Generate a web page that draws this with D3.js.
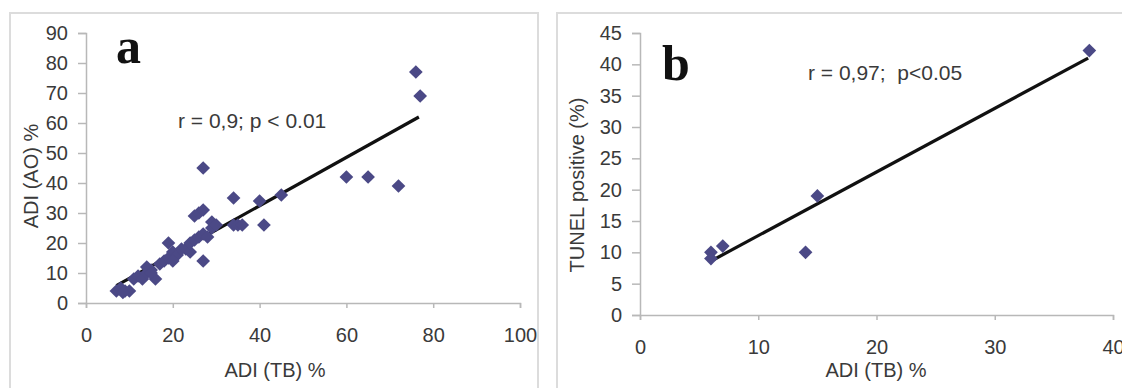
<!DOCTYPE html>
<html>
<head>
<meta charset="utf-8">
<script src="https://cdn.jsdelivr.net/npm/d3@7/dist/d3.min.js"></script>
<style>
  html, body { margin: 0; padding: 0; background: #fff; }
  svg { display: block; font-family: "Liberation Sans", Arial, sans-serif; }
</style>
</head>
<body>
<svg id="chart" width="1122" height="388"></svg>
<script>
// Panel a: ADI (TB) % vs ADI (AO) %
var adiTbA = [7, 8, 9, 10, 8.5, 11, 12, 13, 14, 15, 14, 16, 15,
  17, 18, 19, 19, 20, 21, 20, 22, 23, 24, 24, 25, 26, 27, 28, 27,
  25, 26, 27, 27, 29, 29, 30, 34, 34, 35, 36, 40, 41, 45, 60, 65, 72, 76, 77];
var adiAoA = [4, 5, 4, 4, 3.5, 8, 9, 8, 10, 11, 12, 8, 10,
  13, 14, 15, 20, 17, 16, 14, 18, 18, 17, 20, 21, 22, 23, 22, 14,
  29, 30, 31, 45, 27, 25, 26, 35, 26, 26, 26, 34, 26, 36, 42, 42, 39, 77, 69];
var trendA = [[7, 5.8], [76.7, 62]];
var ticksXA = [0, 20, 40, 60, 80, 100];
var ticksYA = [0, 10, 20, 30, 40, 50, 60, 70, 80, 90];

// Panel b: ADI (TB) % vs TUNEL positive (%)
var adiTbB = [6, 6, 7, 14, 15, 38];
var tunelB = [10, 9, 11, 10, 19, 42.2];
var trendB = [[5.9, 8.5], [37.9, 41]];
var ticksXB = [0, 10, 20, 30, 40];
var ticksYB = [0, 5, 10, 15, 20, 25, 30, 35, 40, 45];

var MARKER = '#4b4986';
var AXIS = '#b8b8b8';
var TEXT = '#3a3a3a';

var svg = d3.select('#chart');

// panel frames
svg.append('rect').attr('x', 10).attr('y', 13).attr('width', 528).attr('height', 390)
  .attr('fill', 'none').attr('stroke', '#dcdcdc').attr('stroke-width', 2);
svg.append('rect').attr('x', 557).attr('y', 13).attr('width', 580).attr('height', 390)
  .attr('fill', 'none').attr('stroke', '#dcdcdc').attr('stroke-width', 2);

function panel(cfg) {
  var x = d3.scaleLinear().domain(cfg.xDomain).range(cfg.xRange);
  var y = d3.scaleLinear().domain(cfg.yDomain).range(cfg.yRange);
  var g = svg.append('g');

  var yAxis = g.append('g')
    .attr('transform', 'translate(' + cfg.xRange[0] + ',0)')
    .call(d3.axisLeft(y).tickValues(cfg.yTicks).tickSize(8).tickPadding(10));
  var xAxis = g.append('g')
    .attr('transform', 'translate(0,' + cfg.yRange[0] + ')')
    .call(d3.axisBottom(x).tickValues(cfg.xTicks).tickSize(5).tickPadding(cfg.xPad));

  [yAxis, xAxis].forEach(function (ax) {
    ax.select('.domain').attr('stroke', AXIS).attr('stroke-width', 1.5);
    ax.selectAll('.tick line').attr('stroke', AXIS).attr('stroke-width', 1.5);
    ax.selectAll('.tick text').attr('fill', TEXT)
      .style('font-size', '20px').style('font-family', '"Liberation Sans", Arial, sans-serif');
  });

  // trend line
  g.append('line')
    .attr('x1', x(cfg.trend[0][0])).attr('y1', y(cfg.trend[0][1]))
    .attr('x2', x(cfg.trend[1][0])).attr('y2', y(cfg.trend[1][1]))
    .attr('stroke', '#111').attr('stroke-width', 3.2);

  // diamond markers
  var sym = d3.symbol().type(d3.symbolDiamond2).size(120);
  g.selectAll('path.pt').data(cfg.xs).enter().append('path')
    .attr('class', 'pt')
    .attr('d', sym)
    .attr('transform', function (d, i) {
      return 'translate(' + x(d) + ',' + y(cfg.ys[i]) + ')';
    })
    .attr('fill', MARKER);

  g.append('text').attr('x', cfg.letter[0]).attr('y', cfg.letter[1])
    .style('font-family', '"Liberation Serif", "Times New Roman", serif')
    .style('font-weight', 'bold').style('font-size', '50px')
    .attr('fill', '#111').text(cfg.letterText);

  g.append('text').attr('x', cfg.note[0]).attr('y', cfg.note[1])
    .attr('xml:space', 'preserve').style('white-space', 'pre')
    .style('font-size', '21px').attr('fill', TEXT).text(cfg.noteText);

  g.append('text').attr('x', cfg.xLabel[0]).attr('y', cfg.xLabel[1])
    .attr('text-anchor', 'middle').style('font-size', '20px').attr('fill', TEXT)
    .text(cfg.xLabelText);

  g.append('text')
    .attr('transform', 'translate(' + cfg.yLabel[0] + ',' + cfg.yLabel[1] + ') rotate(-90)')
    .attr('text-anchor', 'middle').style('font-size', '20px').attr('fill', TEXT)
    .text(cfg.yLabelText);
}

panel({
  xDomain: [0, 100], xRange: [86, 520],
  yDomain: [0, 90], yRange: [303, 33],
  xTicks: ticksXA, yTicks: ticksYA, xPad: 20,
  xs: adiTbA, ys: adiAoA, trend: trendA,
  letter: [116, 63], letterText: 'a',
  note: [178, 128], noteText: 'r = 0,9; p < 0.01',
  xLabel: [275, 377], xLabelText: 'ADI (TB) %',
  yLabel: [38, 176], yLabelText: 'ADI (AO) %'
});

panel({
  xDomain: [0, 40], xRange: [640, 1113],
  yDomain: [0, 45], yRange: [315, 33],
  xTicks: ticksXB, yTicks: ticksYB, xPad: 20,
  xs: adiTbB, ys: tunelB, trend: trendB,
  letter: [662, 80], letterText: 'b',
  note: [808, 80], noteText: 'r = 0,97;  p<0.05',
  xLabel: [876, 377], xLabelText: 'ADI (TB) %',
  yLabel: [584, 185], yLabelText: 'TUNEL positive (%)'
});
</script>
</body>
</html>
